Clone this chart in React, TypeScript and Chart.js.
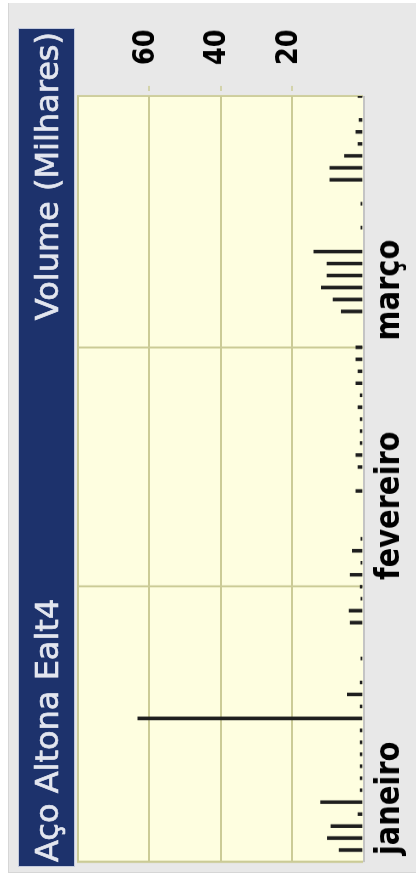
import React, { useEffect, useRef } from 'react';
import { Chart, registerables } from 'chart.js';

Chart.register(...registerables);

// ---- data ----
const titleLeft = 'Aço Altona Ealt4';
const titleRight = 'Volume (Milhares)';

// trading-day slots (slot 0 = start of axis, then 64 trading days)
const slotLabels: string[] = Array.from({ length: 65 }, (_, i) => `dia ${i}`);

// daily volume (thousands)
const volumes: (number | null)[] = [
  null,
  6.7, 10.0, 9.0, 1.4, 11.9, 0.8, 0.8, 0.8, 0.8, 0.8,
  0.8, 63.2, 0.8, 4.4, 0.8, null, 0.6, null, null, 3.6,
  3.9, 0.6, 0.8, 3.6, 0.6, 3.0, 0.6, null, null, null,
  2.0, null, 1.4, 2.0, 0.8, 0.8, 0.8, 1.4, 0.8, 2.0,
  1.4, 2.0, 2.0, null, null, 6.1, 8.4, 11.7, 10.1, 10.1,
  13.8, null, 0.6, null, 0.6, null, 9.3, 9.3, 5.2, 1.4,
  2.0, 1.1, null, 1.4,
];

const monthNames = ['janeiro', 'fevereiro', 'março'];
const monthStarts = [0, 23, 43];
const volumeTickValues = [20, 40, 60];

// ---- styling ----
const SX = 0.85;
const PRE_W = 1016;
const PRE_H = 346;
const PLOT_LEFT = 5 / SX;
const PLOT_RIGHT = 771 / SX;
const PLOT_TOP = 8;
const PLOT_BOTTOM = 293;
const KHAKI = '#cbcb96';
const YELLOW = '#fefee0';
const NAVY = '#1d326c';
const BAR = '#1e1e1e';

const plotFrame = {
  id: 'plotFrame',
  beforeDraw(chart: any) {
    const { ctx, chartArea: a } = chart;
    ctx.save();
    ctx.fillStyle = YELLOW;
    ctx.fillRect(a.left, a.top, a.right - a.left, a.bottom - a.top);
    ctx.restore();
  },
  beforeDatasetsDraw(chart: any) {
    const { ctx, chartArea: a } = chart;
    ctx.save();
    ctx.strokeStyle = KHAKI;
    ctx.lineWidth = 2;
    ctx.beginPath();
    ctx.moveTo(a.left, a.bottom);
    ctx.lineTo(a.left, a.top);
    ctx.lineTo(a.right, a.top);
    ctx.lineTo(a.right, a.bottom);
    ctx.stroke();
    ctx.strokeStyle = '#c4c4c4';
    ctx.lineWidth = 2;
    ctx.beginPath();
    ctx.moveTo(a.left, a.bottom + 1);
    ctx.lineTo(a.right, a.bottom + 1);
    ctx.stroke();
    ctx.restore();
  },
};

export default function App() {
  const ref = useRef<HTMLCanvasElement>(null);

  useEffect(() => {
    document.body.style.margin = '0';
    document.body.style.overflow = 'hidden';
    const chart = new Chart(ref.current as HTMLCanvasElement, {
      type: 'bar',
      data: {
        labels: slotLabels,
        datasets: [
          {
            data: volumes,
            backgroundColor: BAR,
            barThickness: 3.6,
            borderWidth: 0,
          },
        ],
      },
      options: {
        responsive: false,
        animation: false,
        devicePixelRatio: 1,
        layout: { padding: { left: PLOT_LEFT, top: PLOT_TOP, right: 0, bottom: 0 } },
        plugins: {
          legend: { display: false },
          tooltip: { enabled: false },
          title: { display: false },
        },
        scales: {
          x: {
            type: 'category',
            position: 'bottom',
            offset: false,
            grid: {
              offset: false,
              drawTicks: false,
              lineWidth: 2.4,
              color: (c: any) => (monthStarts.includes(c.index) ? KHAKI : 'rgba(0,0,0,0)'),
            },
            border: { display: false },
            ticks: {
              autoSkip: false,
              maxRotation: 0,
              minRotation: 0,
              align: 'start',
              labelOffset: 8,
              padding: 7,
              color: '#000',
              font: { family: 'DejaVu Sans', weight: 'bold', size: 34 },
              callback: (_v: any, i: number) => {
                const k = monthStarts.indexOf(i);
                return k >= 0 ? monthNames[k] : '';
              },
            },
            afterFit: (s: any) => {
              s.height = PRE_H - PLOT_BOTTOM;
              s.paddingLeft = 0;
              s.paddingRight = 0;
            },
          },
          y: {
            position: 'right',
            min: 0,
            max: 80,
            grid: {
              lineWidth: 2,
              color: (c: any) =>
                c.tick && volumeTickValues.includes(c.tick.value) ? KHAKI : 'rgba(0,0,0,0)',
              tickLength: 12,
              tickWidth: 1.5,
              tickBorderDash: [6, 6],
              tickBorderDashOffset: 6,
            },
            border: { display: false },
            ticks: {
              stepSize: 20,
              padding: 24.5,
              labelOffset: -3,
              color: '#000',
              font: { family: 'DejaVu Sans', weight: 'bold', size: 30 },
              callback: (v: any) => (volumeTickValues.includes(Number(v)) ? String(v) : ''),
            },
            afterFit: (s: any) => {
              s.width = PRE_W - PLOT_RIGHT;
              s.paddingTop = 0;
              s.paddingBottom = 0;
            },
          },
        },
      } as any,
      plugins: [plotFrame],
    });
    return () => chart.destroy();
  }, []);

  return (
    <div
      style={{
        position: 'absolute',
        left: 0,
        top: 0,
        width: 879,
        height: 416,
        transformOrigin: '0 0',
        transform: 'translateY(879px) rotate(-90deg)',
        background: '#ffffff',
        overflow: 'hidden',
      }}
    >
      <div
        style={{
          position: 'absolute',
          left: 6,
          top: 8,
          width: 870,
          height: 408,
          background: '#e8e8e8',
          boxSizing: 'border-box',
          borderLeft: '1px solid #d6d6d6',
          borderTop: '1px solid #d6d6d6',
        }}
      />
      <div
        style={{
          position: 'absolute',
          left: 12,
          top: 70,
          width: PRE_W,
          height: PRE_H,
          transformOrigin: '0 0',
          transform: `scaleX(${SX})`,
        }}
      >
        <canvas ref={ref} width={PRE_W} height={PRE_H} style={{ display: 'block', width: PRE_W, height: PRE_H }} />
      </div>
      <div
        style={{
          position: 'absolute',
          left: 12,
          top: 18,
          width: 839,
          height: 57,
          background: NAVY,
          boxSizing: 'border-box',
          border: '1px solid #c3cadc',
          display: 'flex',
          justifyContent: 'space-between',
          alignItems: 'center',
          padding: '0 3px 0 4px',
          color: '#e3e6ef',
          fontFamily: '"DejaVu Sans", sans-serif',
          fontSize: 32,
          whiteSpace: 'nowrap',
          WebkitTextStroke: '0.7px #e3e6ef',
        }}
      >
        <span>{titleLeft}</span>
        <span>{titleRight}</span>
      </div>
    </div>
  );
}
